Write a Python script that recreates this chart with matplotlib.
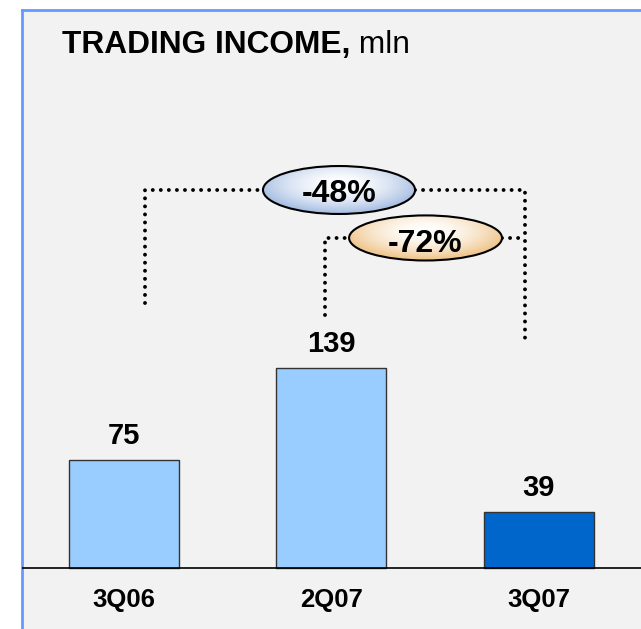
import matplotlib
matplotlib.use('Agg')
import matplotlib.pyplot as plt
import numpy as np
from matplotlib.patches import Ellipse

plt.rcParams['font.family'] = ['Liberation Sans', 'DejaVu Sans']

# data
quarters = ['3Q06', '2Q07', '3Q07']
income = [75, 139, 39]
bar_colors = ['#99ccff', '#99ccff', '#0066cc']
changes = ['-48%', '-72%']


def gradient_ellipse(ax, cx, cy, w, h, edge_rgb, text, text_dy):
    n = 200
    u, v = np.meshgrid(np.linspace(-1, 1, n), np.linspace(-1, 1, n))
    r = np.sqrt((u * 0.95) ** 2 + ((v - 0.25) / 1.2) ** 2)
    t = np.clip(r, 0, 1) ** 1.8
    img = np.ones((n, n, 3)) * (1 - t[..., None]) + np.array(edge_rgb) * t[..., None]
    ell = Ellipse((cx, cy), w, h, facecolor='none', edgecolor='black', lw=1.5, zorder=4)
    ax.add_patch(ell)
    im = ax.imshow(img, extent=(cx - w / 2, cx + w / 2, cy - h / 2, cy + h / 2),
                   origin='lower', aspect='auto', zorder=3)
    im.set_clip_path(ell)
    ax.text(cx, cy + text_dy, text, ha='center', va='center', fontsize=23,
            fontweight='bold', zorder=5)


fig = plt.figure(figsize=(6.41, 6.29), dpi=100, facecolor='white')
ax = fig.add_axes([22 / 641, 0, 619 / 641, 619 / 629])
ax.set_facecolor('#f2f2f2')

x = np.arange(len(quarters))
ax.bar(x, income, width=0.53, color=bar_colors, edgecolor='#333333', linewidth=1, zorder=2)
ax.axhline(0, color='black', lw=1.2, zorder=3)

for xi, v in zip(x, income):
    ax.annotate(str(v), (xi, v), xytext=(0, 11.5), textcoords='offset points',
                ha='center', va='baseline', fontsize=21, fontweight='bold')
    ax.text(xi, -27, quarters[xi], ha='center', va='baseline', fontsize=18.5, fontweight='bold')

# brackets + change ellipses
dot = dict(color='black', lw=2.8, linestyle=(0, (0.01, 2.06)), dash_capstyle='round', zorder=2)
e1 = (1.038, 262.5, 0.733, 33.3)
e2 = (1.455, 229.2, 0.737, 31.3)
xl, xm, xr = 0.103, 0.970, 1.934

ax.plot([xl, xl, e1[0] - e1[2] / 2], [184, e1[1], e1[1]], **dot)
ax.plot([e1[0] + e1[2] / 2, xr, xr], [e1[1], e1[1], 156], **dot)
ax.plot([xm, xm, e2[0] - e2[2] / 2], [175.7, e2[1], e2[1]], **dot)
ax.plot([e2[0] + e2[2] / 2, xr], [e2[1], e2[1]], **dot)

gradient_ellipse(ax, *e1, (0.66, 0.75, 0.89), changes[0], -3.0)
gradient_ellipse(ax, *e2, (0.94, 0.78, 0.56), changes[1], -4.5)

ax.set_xlim(-0.490, 2.4935)
ax.set_ylim(-42.36, 387.5)
ax.set_xticks([])
ax.set_yticks([])
for s in ['right', 'bottom']:
    ax.spines[s].set_visible(False)
for s in ['top', 'left']:
    ax.spines[s].set_color('#6699ff')
    ax.spines[s].set_linewidth(2)

# title: bold part + regular part
renderer = fig.canvas.get_renderer()
t1 = fig.text(62 / 641, 1 - 53 / 629, 'TRADING INCOME,', fontsize=22.8, fontweight='bold',
              va='baseline', ha='left')
bb = t1.get_window_extent(renderer)
fig.text(bb.x1 / fig.bbox.width, 1 - 53 / 629, ' mln', fontsize=22.8, va='baseline', ha='left')

fig.savefig('out.png', dpi=100, facecolor='white')
